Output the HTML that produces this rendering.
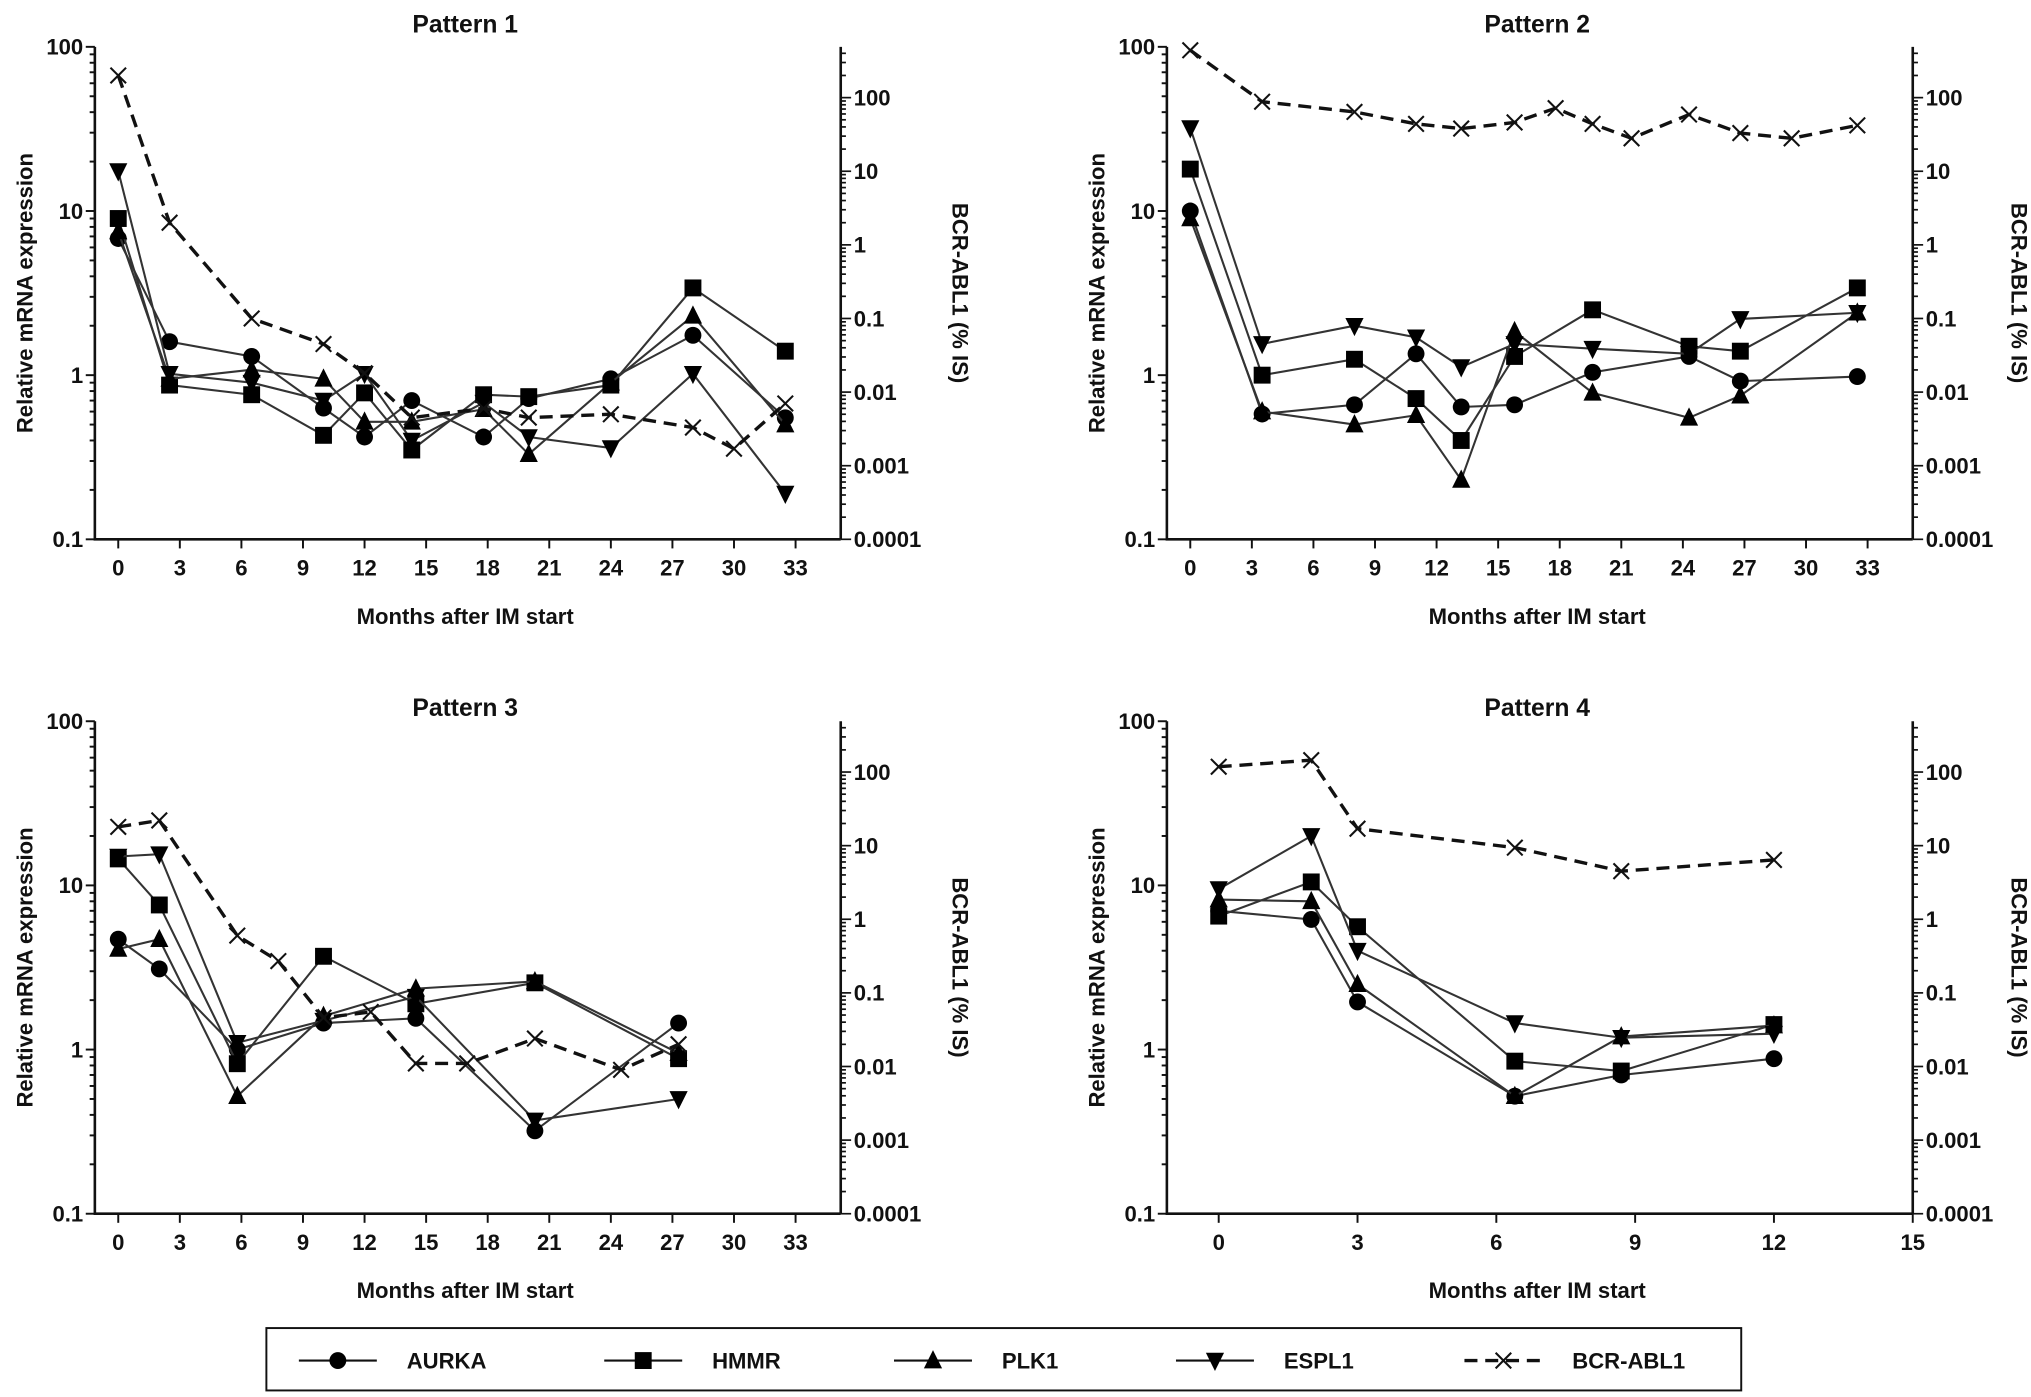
<!DOCTYPE html>
<html><head><meta charset="utf-8"><style>
html,body{margin:0;padding:0;background:#fff}
svg{display:block}
text{font-family:"Liberation Sans",Arial,sans-serif;font-weight:bold;fill:#111}
</style></head><body>
<svg id="chart" width="2031" height="1397" viewBox="0 0 1563 1075" xmlns="http://www.w3.org/2000/svg">
<g id="legend">
<rect x="205" y="1022" width="1135" height="48" fill="none" stroke="#111" stroke-width="1.5"/>
</g>
</svg>
<script>
// ---- Data (months, values) ----
const p1Months=[0,2.5,6.5,10,12,14.3,17.8,20,24,28,32.5];
const p1AURKA=[6.8,1.6,1.3,0.63,0.42,0.7,0.42,0.72,0.95,1.75,0.55];
const p1HMMR=[9,0.87,0.76,0.43,0.78,0.35,0.76,0.74,0.87,3.4,1.4];
const p1PLK1=[7.5,0.95,1.08,0.95,0.52,0.52,0.62,0.33,0.9,2.3,0.5];
const p1ESPL1=[17.5,1.02,0.9,0.7,1.02,0.4,0.68,0.42,0.36,1.02,0.19];
const p1BcrMonths=[0,2.5,6.5,10,12,14.3,17.8,20,24,28,30,32.5];
const p1BCR=[200,2,0.1,0.045,0.018,0.0045,0.006,0.0045,0.005,0.0033,0.0017,0.007];

const p2Months=[0,3.5,8,11,13.2,15.8,19.6,24.3,26.8,32.5];
const p2AURKA=[10,0.58,0.66,1.35,0.64,0.66,1.04,1.3,0.92,0.98];
const p2HMMR=[18,1.0,1.25,0.72,0.4,1.3,2.5,1.5,1.4,3.4];
const p2PLK1=[9,0.6,0.5,0.57,0.23,1.85,0.78,0.55,0.75,2.4];
const p2ESPL1=[32,1.55,2.0,1.7,1.12,1.55,1.45,1.35,2.2,2.4];
const p2BcrMonths=[0,3.5,8,11,13.2,15.8,17.8,19.6,21.5,24.3,26.8,29.3,32.5];
const p2BCR=[440,88,64,44,38,46,72,44,28,59,33,28,42];

const p3Months=[0,2,5.8,10,14.5,20.3,27.3];
const p3AURKA=[4.7,3.1,1.0,1.45,1.55,0.32,1.45];
const p3HMMR=[14.5,7.6,0.82,3.7,1.9,2.55,0.88];
const p3PLK1=[4.1,4.7,0.52,1.6,2.35,2.6,0.95];
const p3ESPL1=[15,15.5,1.1,1.5,2.1,0.37,0.5];
const p3BcrMonths=[0,2,5.8,7.8,10,12.3,14.5,17,20.3,24.5,27.3];
const p3BCR=[18,22,0.6,0.27,0.046,0.055,0.011,0.011,0.024,0.009,0.02];

const p4Months=[0,2,3,6.4,8.7,12];
const p4AURKA=[7,6.2,1.95,0.52,0.7,0.88];
const p4HMMR=[6.5,10.5,5.6,0.85,0.74,1.42];
const p4PLK1=[8.2,8,2.5,0.52,1.2,1.4];
const p4ESPL1=[9.5,20,4,1.45,1.18,1.25];
const p4BcrMonths=[0,2,3,6.4,8.7,12];
const p4BCR=[118,145,17,9.4,4.5,6.4];

const xTicks33=[0,3,6,9,12,15,18,21,24,27,30,33];
const xTicks15=[0,3,6,9,12,15];
const leftTickVals=[0.1,1,10,100];
const leftTickLabels=["0.1","1","10","100"];
const rightTickVals=[0.0001,0.001,0.01,0.1,1,10,100];
const rightTickLabels=["0.0001","0.001","0.01","0.1","1","10","100"];

const NS="http://www.w3.org/2000/svg";
const svg=document.getElementById('chart');
function mk(tag,attrs,parent){const e=document.createElementNS(NS,tag);for(const k in attrs)e.setAttribute(k,attrs[k]);(parent||svg).appendChild(e);return e;}

function drawPanel(cfg){
  const g=mk('g',{});
  
  
  const L=cfg.left,R=cfg.left+574,T=cfg.top,B=cfg.top+379;
  const xs=v=>L+(v-cfg.xmin)/(cfg.xmax-cfg.xmin)*(R-L);
  const yl=v=>B-(Math.log10(v)+1)/3*(B-T);
  const yr=v=>B-(Math.log10(v)+4)/6.69*(B-T);
  const ax=mk('path',{d:`M${L},${T} L${L},${B} L${R},${B} M${R},${T} L${R},${B}`,stroke:'#111','stroke-width':2,fill:'none'},g);
  
  
  for(let d=-1;d<2;d++)for(let m=1;m<10;m++){const v=m*Math.pow(10,d);const y=yl(v);mk('line',{x1:L-(m==1?7:4),x2:L,y1:y,y2:y,stroke:'#111','stroke-width':1.5},g);}
  mk('line',{x1:L-7,x2:L,y1:yl(100),y2:yl(100),stroke:'#111','stroke-width':1.5},g);
  leftTickVals.forEach((v,i)=>{const t=mk('text',{x:L-9,y:yl(v)+6,'text-anchor':'end','font-size':17},g);t.textContent=leftTickLabels[i];
    
    });
  for(let d=-4;d<3;d++)for(let m=1;m<10;m++){const v=m*Math.pow(10,d);const y=yr(v);if(y<T-0.5)continue;mk('line',{x1:R,x2:R+(m==1?8:4),y1:y,y2:y,stroke:'#111','stroke-width':1.3},g);}
  rightTickVals.forEach((v,i)=>{const t=mk('text',{x:R+10,y:yr(v)+6,'font-size':17},g);t.textContent=rightTickLabels[i];
    
    });
  cfg.xticks.forEach(v=>{const x=xs(v);mk('line',{x1:x,x2:x,y1:B,y2:B+7,stroke:'#111','stroke-width':1.5},g);
    const t=mk('text',{x:x,y:B+28,'text-anchor':'middle','font-size':17},g);t.textContent=v;
    
    });
  let t=mk('text',{x:(L+R)/2-2,y:T-11+cfg.titleShift,'text-anchor':'middle','font-size':19},g);t.textContent=cfg.title;
  
  
  t=mk('text',{x:(L+R)/2-2,y:B+65,'text-anchor':'middle','font-size':17},g);t.textContent='Months after IM start';
  
  
  t=mk('text',{x:0,y:0,'text-anchor':'middle','font-size':17,transform:`translate(${L-48},${(T+B)/2}) rotate(-90)`},g);t.textContent='Relative mRNA expression';
  
  
  t=mk('text',{x:0,y:0,'text-anchor':'middle','font-size':17,transform:`translate(${R+cfg.rOff},${(T+B)/2}) rotate(90)`},g);t.textContent='BCR-ABL1 (% IS)';
  
  
  const series=[['aurka',cfg.a,'circle'],['hmmr',cfg.h,'square'],['plk1',cfg.p,'up'],['espl1',cfg.e,'down']];
  series.forEach(([nm,vals,mkType])=>{
    const pts=vals.map((v,i)=>[xs(cfg.months[i]),yl(v)]);
    const pl=mk('polyline',{points:pts.map(p=>p.join(',')).join(' '),fill:'none',stroke:'#333','stroke-width':1.6},g);
    
    
    pts.forEach(p=>{const m=marker(mkType,p[0],p[1],g);
      
      });
  });
  const bp=cfg.bcr.map((v,i)=>[xs(cfg.bm[i]),yr(v)]);
  const bl=mk('polyline',{points:bp.map(p=>p.join(',')).join(' '),fill:'none',stroke:'#111','stroke-width':2.6,'stroke-dasharray':'10,6'},g);
  
  
  bp.forEach(p=>{const m=marker('x',p[0],p[1],g);
    
    });
}
function marker(type,x,y,parent){
  if(type=='circle')return mk('circle',{cx:x,cy:y,r:6.5,fill:'#000'},parent);
  if(type=='square')return mk('rect',{x:x-6.5,y:y-6.5,width:13,height:13,fill:'#000'},parent);
  if(type=='up')return mk('polygon',{points:`${x},${y-8} ${x-7},${y+6} ${x+7},${y+6}`,fill:'#000'},parent);
  if(type=='down')return mk('polygon',{points:`${x},${y+8} ${x-7},${y-6} ${x+7},${y-6}`,fill:'#000'},parent);
  return mk('path',{d:`M${x-6},${y-6}L${x+6},${y+6}M${x-6},${y+6}L${x+6},${y-6}`,stroke:'#111','stroke-width':1.6},parent);
}
drawPanel({name:'panel-pattern-1',title:'Pattern 1',titleShift:0,rOff:86,left:73,top:36,xmin:-1.14,xmax:35.2,xticks:xTicks33,months:p1Months,a:p1AURKA,h:p1HMMR,p:p1PLK1,e:p1ESPL1,bm:p1BcrMonths,bcr:p1BCR});
drawPanel({name:'panel-pattern-2',title:'Pattern 2',titleShift:0,rOff:76,left:898,top:36,xmin:-1.14,xmax:35.2,xticks:xTicks33,months:p2Months,a:p2AURKA,h:p2HMMR,p:p2PLK1,e:p2ESPL1,bm:p2BcrMonths,bcr:p2BCR});
drawPanel({name:'panel-pattern-3',title:'Pattern 3',titleShift:7,rOff:86,left:73,top:555,xmin:-1.14,xmax:35.2,xticks:xTicks33,months:p3Months,a:p3AURKA,h:p3HMMR,p:p3PLK1,e:p3ESPL1,bm:p3BcrMonths,bcr:p3BCR});
drawPanel({name:'panel-pattern-4',title:'Pattern 4',titleShift:7,rOff:76,left:898,top:555,xmin:-1.12,xmax:15.0,xticks:xTicks15,months:p4Months,a:p4AURKA,h:p4HMMR,p:p4PLK1,e:p4ESPL1,bm:p4BcrMonths,bcr:p4BCR});

const lg=document.getElementById('legend');
const legendItems=[['AURKA','circle',230],['HMMR','square',465],['PLK1','up',688],['ESPL1','down',905],['BCR-ABL1','x',1127]];
legendItems.forEach(([lab,type,x0])=>{
  const g=mk('g',{},lg);
  
  
  const dashed=type=='x';
  mk('line',{x1:x0,x2:x0+60,y1:1047,y2:1047,stroke:'#111','stroke-width':dashed?2.6:1.6,'stroke-dasharray':dashed?'10,6':'none'},g);
  marker(type,x0+30,1047,g);
  const t=mk('text',{x:x0+83,y:1053,'font-size':17},g);t.textContent=lab;
});
</script>
</body></html>
